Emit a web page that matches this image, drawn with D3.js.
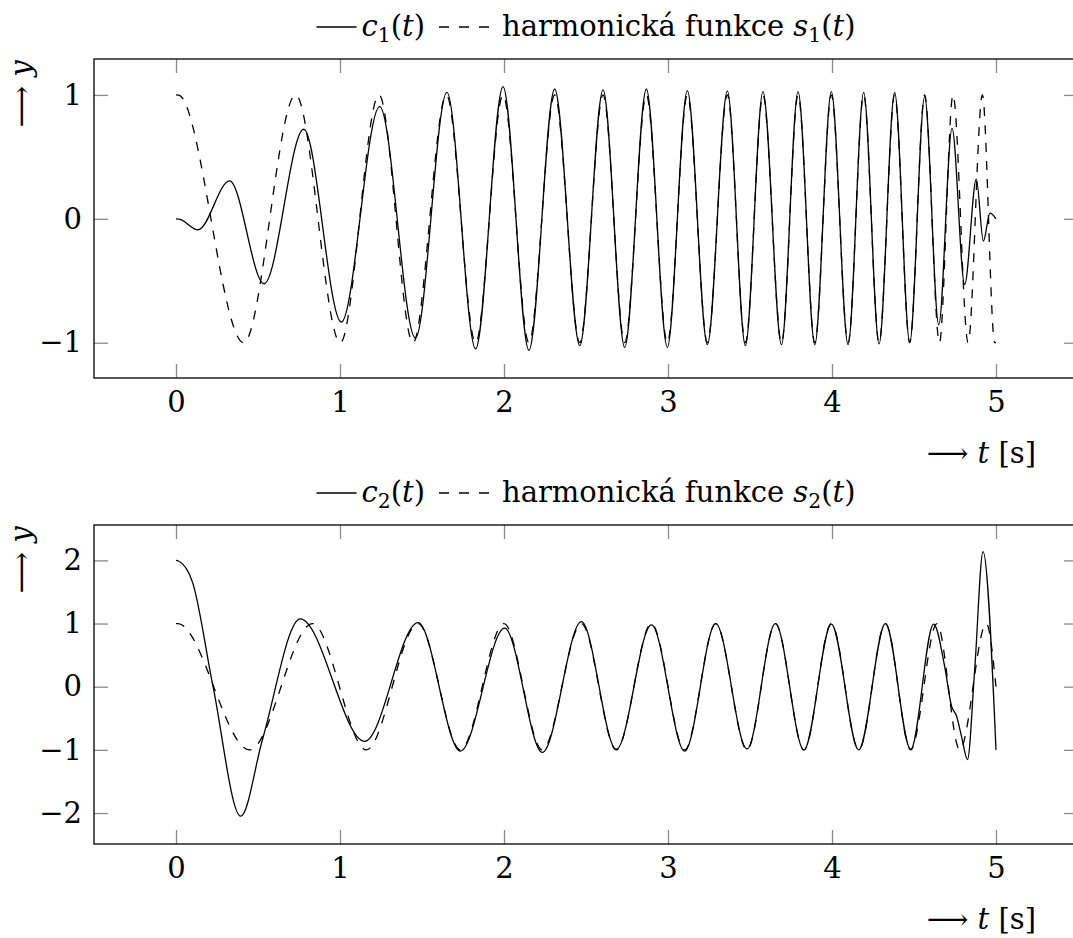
<!DOCTYPE html>
<html>
<head>
<meta charset="utf-8">
<script src="https://cdn.jsdelivr.net/npm/d3@7"></script>
<style>
  body { margin: 0; background: #fff; }
  svg text { white-space: pre; font-family: "DejaVu Serif", serif; }
</style>
</head>
<body>
<svg id="chart" width="1073" height="938"></svg>
<script>
// tick values
const xTicks = [0, 1, 2, 3, 4, 5];
const topYTicks = [-1, 0, 1];
const botYTicks = [-2, -1, 0, 1, 2];

// top panel: c1(t) (solid) and s1(t) (dashed), points [t, y]
const c1Points = [
  [0, 0], [0.02, -0.002], [0.134, -0.089], [0.327, 0.306], [0.537, -0.524], [0.779, 0.723],
  [1.008, -0.833], [1.242, 0.906], [1.46, -0.962], [1.652, 1.02], [1.827, -1.05],
  [1.994, 1.067], [2.152, -1.062], [2.309, 1.048], [2.462, -1.024], [2.604, 1.04],
  [2.736, -1.038], [2.868, 1.048], [2.996, -1.038], [3.118, 1.035], [3.24, -1.016],
  [3.362, 1.032], [3.472, -1.024], [3.579, 1.027], [3.692, -1.016], [3.793, 1.027],
  [3.895, -1.016], [3.996, 1.027], [4.098, -1.016], [4.193, 1.02], [4.287, -1.01],
  [4.382, 1.02], [4.474, -0.997], [4.565, 0.986], [4.651, -0.855], [4.732, 0.73],
  [4.809, -0.53], [4.88, 0.32], [4.923, -0.18], [4.963, 0.046], [5.0, 0.0]
];
const s1Points = [
  [0, 1], [0.015, 0.999], [0.413, -1], [0.73, 1], [1.002, -1], [1.238, 1], [1.445, -1],
  [1.649, 1], [1.827, -1], [1.994, 1], [2.152, -1], [2.309, 1], [2.462, -1],
  [2.604, 1], [2.736, -1], [2.868, 1], [2.996, -1], [3.118, 1], [3.24, -1],
  [3.362, 1], [3.472, -1], [3.579, 1], [3.692, -1], [3.793, 1], [3.895, -1],
  [3.996, 1], [4.098, -1], [4.193, 1], [4.287, -1], [4.382, 1], [4.474, -1],
  [4.565, 1], [4.655, -1], [4.738, 1], [4.83, -1], [4.917, 1], [4.992, -0.999], [5.0, -1]
];

// bottom panel: c2(t) (solid) and s2(t) (dashed)
const c2Points = [
  [0, 2], [0.015, 1.99], [0.1, 1.66], [0.226, 0], [0.395, -2.05], [0.527, -0.84], [0.758, 1.074],
  [1.151, -0.864], [1.476, 1.016], [1.734, -1.02], [2.004, 0.927], [2.234, -1.04],
  [2.472, 1.03], [2.685, -0.99], [2.899, 0.98], [3.102, -1.02], [3.291, 1.0],
  [3.482, -0.985], [3.655, 1.0], [3.829, -1.0], [3.996, 0.99], [4.163, -1.0],
  [4.326, 1.0], [4.48, -0.99], [4.62, 0.99], [4.687, 0.32], [4.728, -0.3],
  [4.76, -0.47], [4.79, -0.79], [4.826, -1.153], [4.87, 0.27], [4.921, 2.14], [5.0, -1.0]
];
const s2Points = [
  [0, 1], [0.015, 0.998], [0.449, -1], [0.832, 1], [1.161, -1], [1.476, 1], [1.734, -1],
  [2.0, 1], [2.234, -1], [2.472, 1], [2.685, -1], [2.899, 1], [3.102, -1],
  [3.291, 1], [3.482, -1], [3.655, 1], [3.829, -1], [3.996, 1], [4.163, -1],
  [4.326, 1], [4.48, -1], [4.64, 1], [4.779, -1], [4.941, 1], [5.0, 0.0]
];

const FS = 29;
const svg = d3.select("#chart");

const x = d3.scaleLinear().domain([-0.5, 5.5]).range([94, 1078]);

// writes math-ish text: parts are [string, kind] with kind r / i / sub
function mathText(t, parts) {
  let shifted = false;
  parts.forEach(([s, kind]) => {
    const ts = t.append("tspan").text(s);
    if (kind === "i") ts.attr("font-style", "italic");
    if (kind === "sub") {
      ts.attr("font-size", "0.7em").attr("dy", 6);
      shifted = true;
    } else if (shifted) {
      ts.attr("dy", -6);
      shifted = false;
    }
  });
}

function drawPanel(top, yDomain, yTicks, solid, dashed, sub) {
  const h = 319;
  const y = d3.scaleLinear().domain(yDomain).range([top + h, top]);
  const g = svg.append("g");

  const styleAxis = a => {
    a.select(".domain").remove();
    a.selectAll(".tick line").attr("stroke", "#8a8a8a").attr("stroke-width", 1.3);
    a.selectAll(".tick text").attr("fill", "#000").attr("font-family", null).attr("font-size", FS);
  };

  g.append("g").attr("transform", `translate(0,${top + h})`)
    .call(d3.axisBottom(x).tickValues(xTicks).tickSize(-14).tickPadding(13).tickFormat(d3.format("d")))
    .call(styleAxis);
  g.append("g").attr("transform", `translate(0,${top})`)
    .call(d3.axisTop(x).tickValues(xTicks).tickSize(-14).tickFormat(""))
    .call(styleAxis);
  g.append("g").attr("transform", `translate(${x(-0.5)},0)`)
    .call(d3.axisLeft(y).tickValues(yTicks).tickSize(-14).tickPadding(12).tickFormat(d3.format("d")))
    .call(styleAxis);
  g.append("g").attr("transform", `translate(${x(5.5)},0)`)
    .call(d3.axisRight(y).tickValues(yTicks).tickSize(-14).tickFormat(""))
    .call(styleAxis);

  // curves
  const line = d3.line()
    .x(d => x(d[0]))
    .y(d => y(d[1]))
    .curve(d3.curveMonotoneX);
  g.append("path").datum(dashed)
    .attr("fill", "none").attr("stroke", "#000").attr("stroke-width", 1.3)
    .attr("stroke-dasharray", "9,9")
    .attr("d", line);
  g.append("path").datum(solid)
    .attr("fill", "none").attr("stroke", "#000").attr("stroke-width", 1.3)
    .attr("d", line);

  // frame
  g.append("rect")
    .attr("x", x(-0.5)).attr("y", top)
    .attr("width", x(5.5) - x(-0.5)).attr("height", h)
    .attr("fill", "none").attr("stroke", "#000").attr("stroke-width", 1.3);

  // axis labels
  const xl = g.append("text")
    .attr("x", 1036).attr("y", top + h + 85)
    .attr("text-anchor", "end")
    .attr("font-size", FS);
  mathText(xl, [["\u27F6 ", "r"], ["t", "i"], [" [s]", "r"]]);

  const yl = g.append("text")
    .attr("transform", `translate(31,${top + 35}) rotate(-90)`)
    .attr("text-anchor", "middle")
    .attr("font-size", FS);
  mathText(yl, [["\u27F6 ", "r"], ["y", "i"]]);

  // legend
  const ly = top - 32;
  const lg = g.append("g").attr("font-size", FS);
  let cx = 0;
  lg.append("line").attr("x1", cx).attr("x2", cx + 40).attr("y1", ly).attr("y2", ly)
    .attr("stroke", "#000").attr("stroke-width", 1.3);
  cx += 45;
  const t1 = lg.append("text").attr("x", cx).attr("y", ly + 9);
  mathText(t1, [["c", "i"], [sub, "sub"], ["(", "r"], ["t", "i"], [")", "r"]]);
  cx += t1.node().getComputedTextLength() + 14;
  lg.append("line").attr("x1", cx).attr("x2", cx + 50).attr("y1", ly).attr("y2", ly)
    .attr("stroke", "#000").attr("stroke-width", 1.3).attr("stroke-dasharray", "10,10");
  cx += 63;
  const t2 = lg.append("text").attr("x", cx).attr("y", ly + 9);
  mathText(t2, [["harmonická funkce ", "r"], ["s", "i"], [sub, "sub"], ["(", "r"], ["t", "i"], [")", "r"]]);
  cx += t2.node().getComputedTextLength();
  lg.attr("transform", `translate(${586 - cx / 2},0)`);
}

drawPanel(59, [-1.285, 1.29], topYTicks, c1Points, s1Points, "1");
drawPanel(525, [-2.49, 2.56], botYTicks, c2Points, s2Points, "2");
</script>
</body>
</html>
